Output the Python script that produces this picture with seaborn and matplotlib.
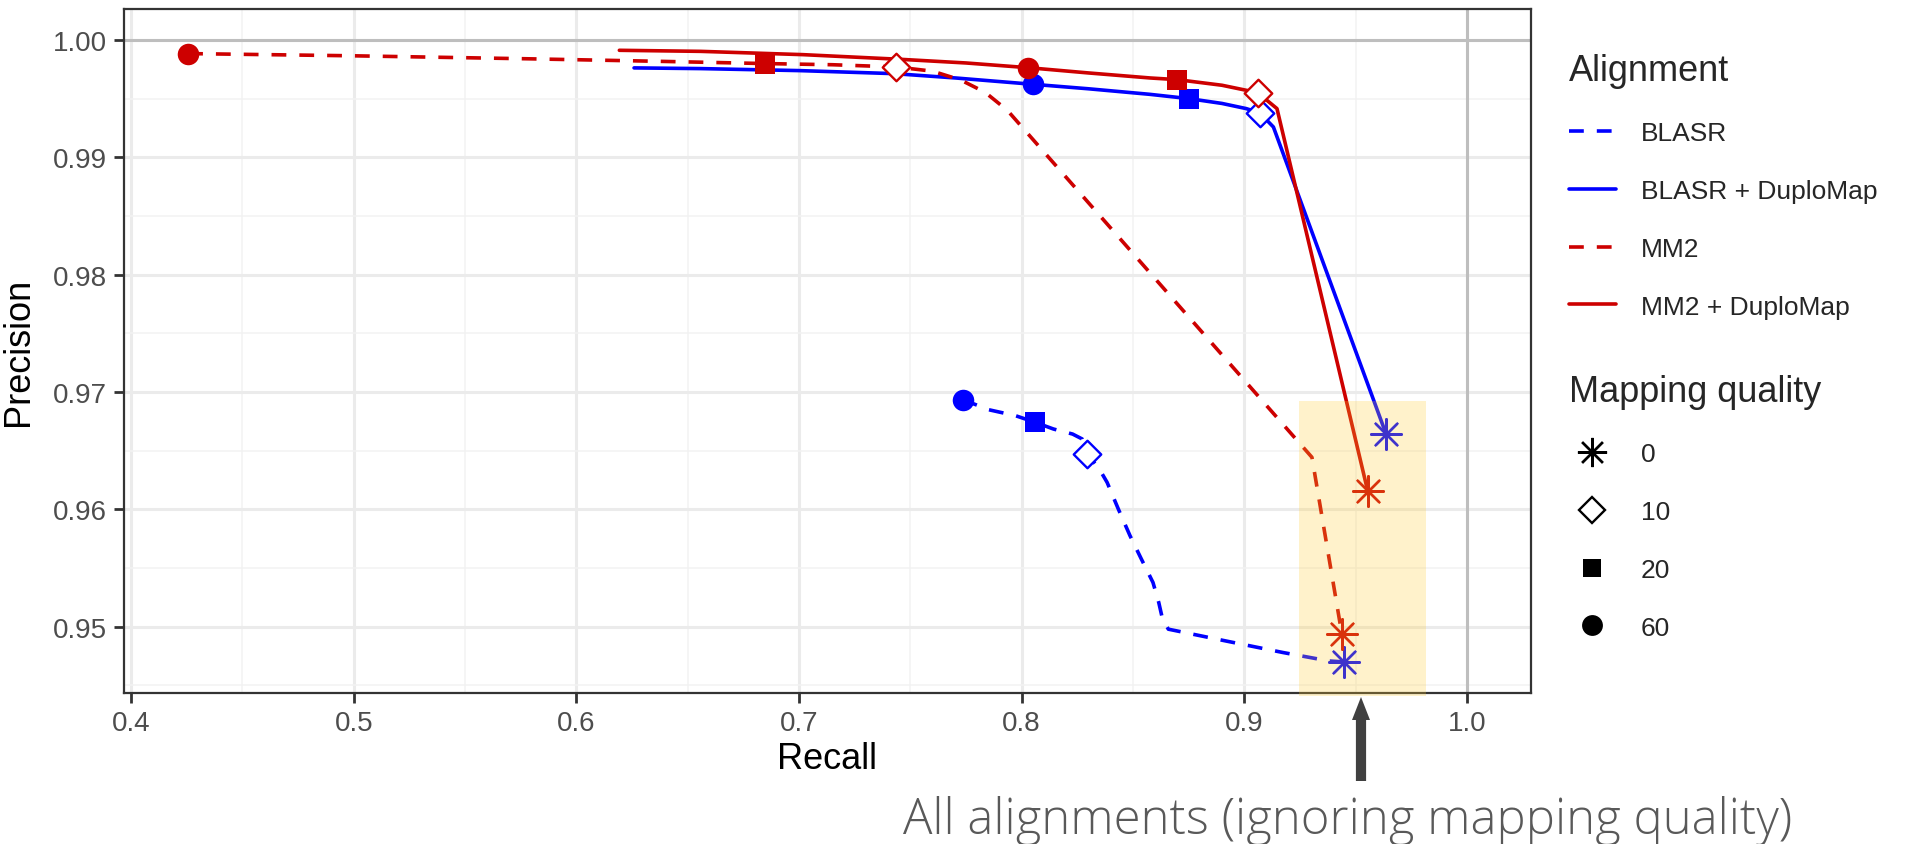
import matplotlib
matplotlib.use("Agg")
import matplotlib.pyplot as plt
import seaborn as sns
import pandas as pd
from matplotlib.lines import Line2D
from matplotlib.patches import Rectangle, FancyArrow

# ---------------- data ----------------
alignments = ["BLASR", "BLASR + DuploMap", "MM2", "MM2 + DuploMap"]
mapq_levels = ["0", "10", "20", "60"]

blasr_recall = [0.7737, 0.7851, 0.7972, 0.8061, 0.8143, 0.8229, 0.8272, 0.8295, 0.8349, 0.8384,
                0.8435, 0.8487, 0.8538, 0.8590, 0.8616, 0.8633, 0.8659, 0.8916, 0.9174, 0.9380, 0.9446]
blasr_precision = [0.96935, 0.96850, 0.96799, 0.96742, 0.96685, 0.96642, 0.96600, 0.96472, 0.96344, 0.96230,
                   0.96000, 0.95775, 0.95576, 0.95377, 0.95206, 0.95064, 0.94979, 0.94879, 0.94780, 0.94708, 0.94700]

blasr_dm_recall = [0.6259, 0.6559, 0.7000, 0.7429, 0.7704, 0.8052, 0.8300, 0.8574, 0.8752, 0.8900,
                   0.9009, 0.9070, 0.9131, 0.9637]
blasr_dm_precision = [0.99763, 0.99757, 0.99740, 0.99714, 0.99677, 0.99623, 0.99585, 0.99538, 0.99501, 0.99460,
                      0.99416, 0.99379, 0.99259, 0.96642]

mm2_recall = [0.4256, 0.5000, 0.5801, 0.6400, 0.6846, 0.7150, 0.7436, 0.7600, 0.7726, 0.7836, 0.7936,
              0.9304, 0.9438]
mm2_precision = [0.99885, 0.99866, 0.99840, 0.99818, 0.99800, 0.99790, 0.99771, 0.99735, 0.99660, 0.99555,
                 0.99401, 0.96444, 0.94942]

mm2_dm_recall = [0.6193, 0.6559, 0.7017, 0.7457, 0.7750, 0.8028, 0.8300, 0.8578, 0.8699, 0.8900,
                 0.9060, 0.9147, 0.9555]
mm2_dm_precision = [0.99913, 0.99904, 0.99876, 0.99836, 0.99805, 0.99765, 0.99720, 0.99677, 0.99663, 0.99615,
                    0.99552, 0.99416, 0.96153]

# marker points at mapping-quality thresholds 0, 10, 20, 60
pt_alignment = ["BLASR"] * 4 + ["BLASR + DuploMap"] * 4 + ["MM2"] * 4 + ["MM2 + DuploMap"] * 4
pt_mapq = mapq_levels * 4
pt_recall = [0.9446, 0.8295, 0.8061, 0.7737,
             0.9637, 0.9070, 0.8752, 0.8052,
             0.9438, 0.7436, 0.6846, 0.4256,
             0.9555, 0.9060, 0.8699, 0.8028]
pt_precision = [0.94700, 0.96472, 0.96742, 0.96935,
                0.96642, 0.99379, 0.99501, 0.99623,
                0.94942, 0.99771, 0.99800, 0.99885,
                0.96153, 0.99552, 0.99663, 0.99765]

x_breaks = [0.4, 0.5, 0.6, 0.7, 0.8, 0.9, 1.0]
y_breaks = [0.95, 0.96, 0.97, 0.98, 0.99, 1.00]
x_tick_labels = ["0.4", "0.5", "0.6", "0.7", "0.8", "0.9", "1.0"]
y_tick_labels = ["0.95", "0.96", "0.97", "0.98", "0.99", "1.00"]
highlight_recall = [0.9248, 0.9817]
highlight_precision = [0.94411, 0.96927]
annotation_text = "All alignments (ignoring mapping quality)"

# ---------------- styles ----------------
BLUE = "#0000FF"
RED = "#CD0000"
colors = {"BLASR": BLUE, "BLASR + DuploMap": BLUE, "MM2": RED, "MM2 + DuploMap": RED}
dashed = {"BLASR": True, "BLASR + DuploMap": False, "MM2": True, "MM2 + DuploMap": False}
LW = 2.6
DASH = (4.1, 3.6)

curves = pd.concat([
    pd.DataFrame({"Recall": blasr_recall, "Precision": blasr_precision, "Alignment": "BLASR"}),
    pd.DataFrame({"Recall": blasr_dm_recall, "Precision": blasr_dm_precision, "Alignment": "BLASR + DuploMap"}),
    pd.DataFrame({"Recall": mm2_recall, "Precision": mm2_precision, "Alignment": "MM2"}),
    pd.DataFrame({"Recall": mm2_dm_recall, "Precision": mm2_dm_precision, "Alignment": "MM2 + DuploMap"}),
], ignore_index=True)
points = pd.DataFrame({"Recall": pt_recall, "Precision": pt_precision,
                       "Alignment": pt_alignment, "MAPQ": pt_mapq})

sns.set_theme(style="white")
plt.rcParams["font.family"] = ["Liberation Sans", "DejaVu Sans"]

fig = plt.figure(figsize=(19.15, 8.45), dpi=100)
ax = fig.add_axes([124 / 1915, 1 - 694 / 845, (1531 - 124) / 1915, (694 - 10) / 845])

# grid
for xv in x_breaks:
    ax.axvline(xv, color="#EBEBEB", lw=2.2, zorder=0)
for xv in [0.45, 0.55, 0.65, 0.75, 0.85, 0.95]:
    ax.axvline(xv, color="#F2F2F2", lw=1.1, zorder=0)
for yv in y_breaks:
    ax.axhline(yv, color="#EBEBEB", lw=2.2, zorder=0)
for yv in [0.945, 0.955, 0.965, 0.975, 0.985, 0.995]:
    ax.axhline(yv, color="#F2F2F2", lw=1.1, zorder=0)

ax.axhline(1.0, color="#BEBEBE", lw=2.2, zorder=1)
ax.axvline(1.0, color="#BEBEBE", lw=2.2, zorder=1)

# lines
for name in alignments:
    sub = curves[curves["Alignment"] == name]
    sns.lineplot(data=sub, x="Recall", y="Precision", ax=ax, sort=False, estimator=None,
                 color=colors[name], lw=LW, legend=False, zorder=3)
    ln = ax.lines[-1]
    if dashed[name]:
        ln.set_dashes(DASH)

# markers
for (name, q), sub in points.groupby(["Alignment", "MAPQ"]):
    c = colors[name]
    if q == "10":
        sns.scatterplot(data=sub, x="Recall", y="Precision", ax=ax, marker="D", s=14 ** 2,
                        facecolor="white", edgecolor=c, linewidth=1.7, zorder=4, legend=False)
    elif q == "0":
        sns.scatterplot(data=sub, x="Recall", y="Precision", ax=ax, marker=(8, 2, 0), s=22 ** 2,
                        color=c, linewidth=1.7, zorder=4, legend=False)
    elif q == "20":
        sns.scatterplot(data=sub, x="Recall", y="Precision", ax=ax, marker="s", s=15 ** 2,
                        color=c, linewidth=0, zorder=4, legend=False)
    else:
        sns.scatterplot(data=sub, x="Recall", y="Precision", ax=ax, marker="o", s=15.5 ** 2,
                        color=c, linewidth=0, zorder=4, legend=False)

# highlight rectangle (drawn over the data)
ax.add_patch(Rectangle((highlight_recall[0], highlight_precision[0]),
                       highlight_recall[1] - highlight_recall[0],
                       highlight_precision[1] - highlight_precision[0],
                       facecolor="#FFCC33", alpha=0.25, lw=0, zorder=6, clip_on=False))

ax.set_xlim(0.3968, 1.0288)
ax.set_ylim(0.94435, 1.00265)
ax.set_xticks(x_breaks)
ax.set_xticklabels(x_tick_labels)
ax.set_yticks(y_breaks)
ax.set_yticklabels(y_tick_labels)
ax.tick_params(axis="both", which="major", length=7, width=2, color="#333333",
               labelsize=20, labelcolor="#4D4D4D", pad=5.5, bottom=True, left=True)
ax.set_xlabel("Recall", fontsize=26, color="black", labelpad=3)
ax.set_ylabel("Precision", fontsize=26, color="black", labelpad=12)
for sp in ax.spines.values():
    sp.set_visible(True)
    sp.set_color("#333333")
    sp.set_linewidth(1.6)

# legends
align_handles = []
for n in alignments:
    h = Line2D([0], [0], color=colors[n], lw=LW)
    if dashed[n]:
        h.set_dashes(DASH)
    align_handles.append(h)
leg1 = fig.legend(align_handles, alignments, title="Alignment", loc="upper left",
                  bbox_to_anchor=(1558 / 1915, 1 - 43 / 845), frameon=False, fontsize=19,
                  title_fontsize=26, handlelength=1.8, handletextpad=0.95, labelspacing=1.28,
                  alignment="left", borderaxespad=0)

mq_handles = [
    Line2D([0], [0], linestyle="none", marker=(8, 2, 0), ms=21, mec="black", mew=1.7),
    Line2D([0], [0], linestyle="none", marker="D", ms=13, mfc="white", mec="black", mew=1.7),
    Line2D([0], [0], linestyle="none", marker="s", ms=13.5, mfc="black", mec="black", mew=0),
    Line2D([0], [0], linestyle="none", marker="o", ms=15, mfc="black", mec="black", mew=0),
]
leg2 = fig.legend(mq_handles, mapq_levels, title="Mapping quality", loc="upper left",
                  bbox_to_anchor=(1558 / 1915, 1 - 364 / 845), frameon=False, fontsize=19,
                  title_fontsize=26, handlelength=1.8, handletextpad=0.95, labelspacing=1.28,
                  alignment="left", borderaxespad=0)

# annotation arrow and text
fig.patches.append(FancyArrow(
    1361 / 1915, 1 - 782 / 845, 0, (782 - 698) / 845, width=4.5 / 845, head_width=18 / 1915,
    head_length=23 / 845, length_includes_head=True, transform=fig.transFigure,
    color="#404040", lw=0))
fig.text(903 / 1915, 1 - 834 / 845, annotation_text, fontsize=35.3, color="#595959",
         family=["Open Sans", "Lato", "DejaVu Sans"], fontweight="light",
         ha="left", va="baseline")

fig.savefig("out.png", dpi=100)
